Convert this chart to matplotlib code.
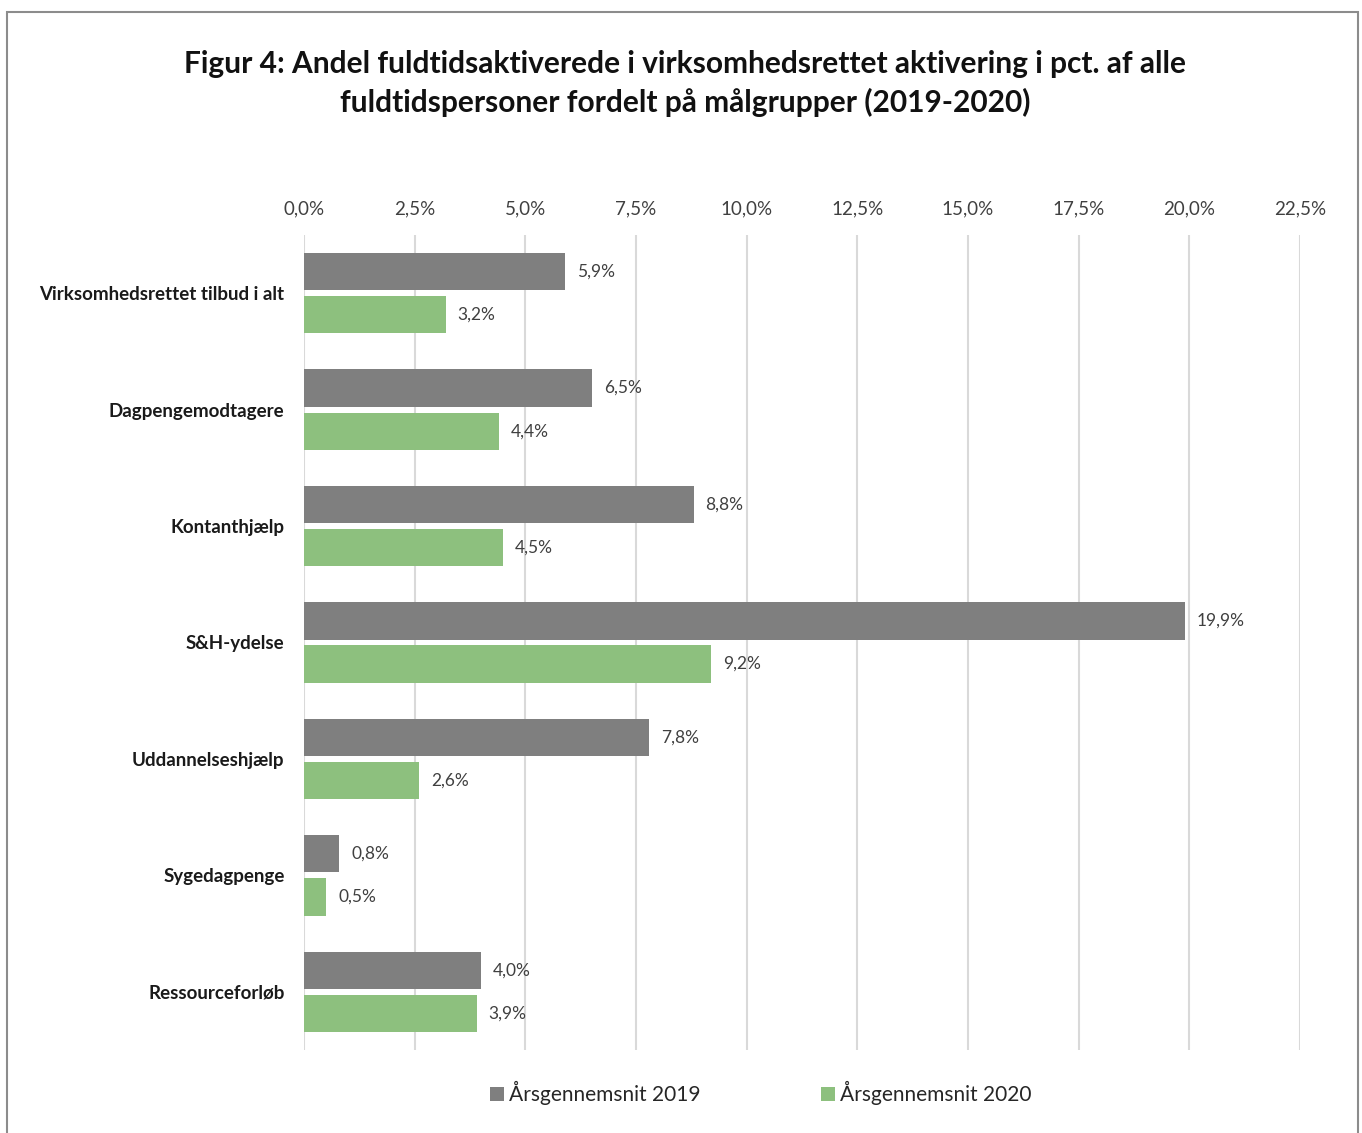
import matplotlib
matplotlib.use("Agg")
import matplotlib.pyplot as plt
from matplotlib.patches import Rectangle
import numpy as np

categories = ["Virksomhedsrettet tilbud i alt", "Dagpengemodtagere", "Kontanthjælp",
              "S&H-ydelse", "Uddannelseshjælp", "Sygedagpenge", "Ressourceforløb"]
values_2019 = [5.9, 6.5, 8.8, 19.9, 7.8, 0.8, 4.0]
values_2020 = [3.2, 4.4, 4.5, 9.2, 2.6, 0.5, 3.9]
series_names = ["Årsgennemsnit 2019", "Årsgennemsnit 2020"]
xticks = [0, 2.5, 5, 7.5, 10, 12.5, 15, 17.5, 20, 22.5]

plt.rcParams['font.family'] = ['Lato', 'DejaVu Sans']
W, H = 1362, 1133
fig = plt.figure(figsize=(W/100, H/100), dpi=100)

# frame
fig.patches.append(Rectangle((7/W, -0.01), (1358-7)/W, (H-12)/H + 0.01, transform=fig.transFigure,
                             fill=False, edgecolor='#8c8c8c', linewidth=1.5))

ax = fig.add_axes([304/W, 1-1050/H, (1300-304)/W, (1050-235)/H])
n = len(categories)
y = np.arange(n)
bh = 0.32
off = 0.185
c1, c2 = '#7f7f7f', '#8dc07e'
ax.barh(y - off, values_2019, height=bh, color=c1, label=series_names[0], zorder=3)
ax.barh(y + off, values_2020, height=bh, color=c2, label=series_names[1], zorder=3)
for yi, v in zip(y, values_2019):
    ax.text(v + 0.27, yi - off, f"{v:.1f}%".replace('.', ','), va='center', ha='left',
            fontsize=12.5, color='#404040')
for yi, v in zip(y, values_2020):
    ax.text(v + 0.27, yi + off, f"{v:.1f}%".replace('.', ','), va='center', ha='left',
            fontsize=12.5, color='#404040')

ax.set_xlim(0, 22.5)
ax.set_ylim(n - 0.5, -0.5)
ax.set_xticks(xticks)
ax.set_xticklabels([f"{t:.1f}%".replace('.', ',') for t in xticks], fontsize=13.5, color='#404040')
ax.xaxis.tick_top()
ax.tick_params(axis='x', length=0, pad=12.5)
ax.set_yticks(y)
ax.set_yticklabels(categories, fontsize=13.5, fontweight='bold', color='#1a1a1a')
ax.tick_params(axis='y', length=0, pad=14)
ax.grid(axis='x', color='#d9d9d9', linewidth=1.5, zorder=0)
for s in ax.spines.values():
    s.set_visible(False)

fig.text(685/W, 1-64/H, "Figur 4: Andel fuldtidsaktiverede i virksomhedsrettet aktivering i pct. af alle",
         ha='center', va='center', fontsize=21.5, fontweight='bold', color='#111111')
fig.text(685/W, 1-102/H, "fuldtidspersoner fordelt på målgrupper (2019-2020)",
         ha='center', va='center', fontsize=21.5, fontweight='bold', color='#111111')

leg = fig.legend(loc='center', bbox_to_anchor=(761/W, 1-1093/H), ncol=2, frameon=False,
                 fontsize=15, handlelength=0.65, handleheight=0.65, handletextpad=0.25,
                 columnspacing=5.8)
for t in leg.get_texts():
    t.set_color('#262626')

fig.savefig("out.png", dpi=100)
